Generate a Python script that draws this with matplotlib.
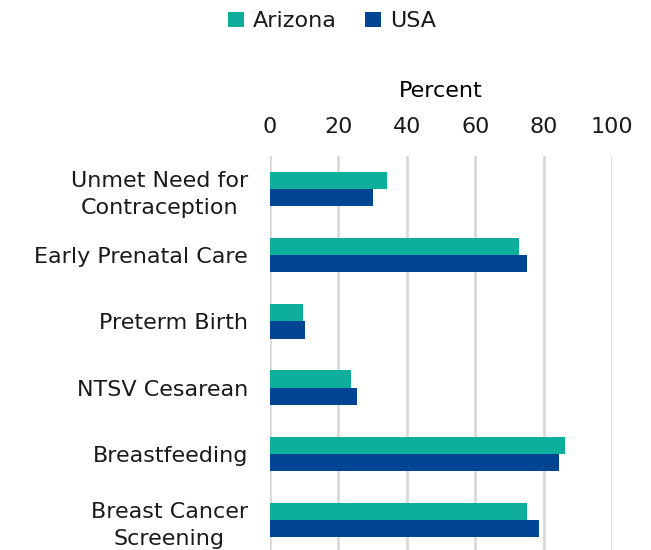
import numpy as np
import matplotlib.pyplot as plt

categories = ["Unmet Need for\nContraception", "Early Prenatal Care", "Preterm Birth",
              "NTSV Cesarean", "Breastfeeding", "Breast Cancer\nScreening"]
arizona = [34.1, 72.8, 9.6, 23.7, 86.3, 75.1]
usa = [30.2, 75.2, 10.2, 25.4, 84.5, 78.7]

plt.rcParams['font.family'] = ['DejaVu Sans']
plt.rcParams['text.color'] = '#1a1a1a'
plt.rcParams['xtick.color'] = '#1a1a1a'
plt.rcParams['ytick.color'] = '#1a1a1a'

fig = plt.figure(figsize=(6.51, 5.5), dpi=100)
ax = fig.add_axes([270 / 651, -3 / 550, 342 / 651, 397 / 550])

y = np.arange(len(categories))
h = 0.26
ax.barh(y - h / 2, arizona, h, color="#0dae9c", label="Arizona", zorder=3)
ax.barh(y + h / 2, usa, h, color="#004593", label="USA", zorder=3)

ax.set_xlim(0, 100)
ax.set_ylim(len(categories) - 0.5, -0.5)
ax.set_xticks(np.arange(0, 101, 20))
ax.xaxis.tick_top()
ax.xaxis.set_label_position('top')
ax.set_xlabel("Percent", fontsize=16, labelpad=14)
ax.set_yticks(y)
ax.set_yticklabels(categories, fontsize=16, linespacing=1.45, multialignment='center')
ax.tick_params(axis='x', length=0, labelsize=16, pad=14)
ax.tick_params(axis='y', length=0, pad=16)
for s in ax.spines.values():
    s.set_visible(False)
ax.grid(axis='x', color="#d9d9d9", linewidth=2, zorder=0)

fig.legend(loc='upper center', bbox_to_anchor=(0.51, 1.0), ncol=2, frameon=False,
           fontsize=16, handlelength=0.7, handleheight=0.7, handletextpad=0.4,
           columnspacing=1.3, borderaxespad=0.1)

plt.savefig("out.png", dpi=100)
